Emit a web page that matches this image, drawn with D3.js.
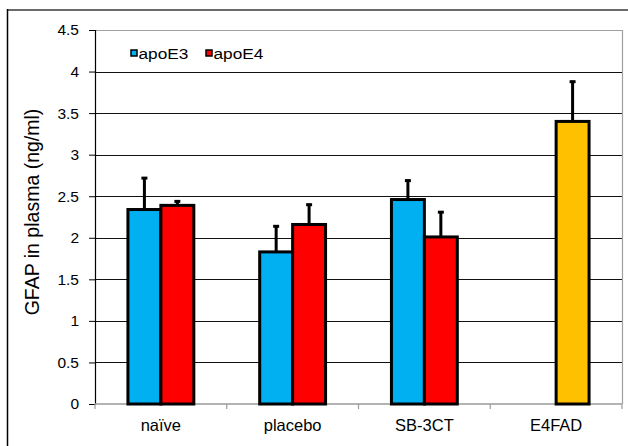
<!DOCTYPE html>
<html>
<head>
<meta charset="utf-8">
<script src="https://cdn.jsdelivr.net/npm/d3@7"></script>
<style>
  body { margin: 0; background: #fff; }
  svg { display: block; font-family: "Liberation Sans", Arial, sans-serif; }
</style>
</head>
<body>
<svg id="chart" width="628" height="446"></svg>
<script>
// data
const categories = ["naïve", "placebo", "SB-3CT", "E4FAD"];
const series = ["apoE3", "apoE4"];
const apoE3 = [2.34, 1.83, 2.46, null];
const apoE4 = [2.39, 2.16, 2.01, 3.40];
const apoE3Err = [0.39, 0.32, 0.24, null];
const apoE4Err = [0.06, 0.25, 0.31, 0.49];
const yTicks = [0, 0.5, 1, 1.5, 2, 2.5, 3, 3.5, 4, 4.5];

const colors = { apoE3: "#00B0F0", apoE4: "#FF0000" };
const e4fadColor = "#FFC000"; // single bar recoloured in the apoE4 series

const svg = d3.select("#chart");
const margin = { left: 95, right: 6, top: 30, bottom: 42 };
const W = +svg.attr("width"), H = +svg.attr("height");

// outer frame (cropped on right/bottom)
svg.append("line").attr("x1", 7).attr("x2", W).attr("y1", 10).attr("y2", 10)
  .attr("stroke", "#6a6a6a").attr("stroke-width", 2);
svg.append("line").attr("x1", 7.5).attr("x2", 7.5).attr("y1", 9).attr("y2", H)
  .attr("stroke", "#000").attr("stroke-width", 1.5);

const x0 = d3.scaleBand().domain(categories)
  .range([margin.left, W - margin.right]).padding(0);
const x1 = d3.scaleBand().domain(series)
  .range([0, x0.bandwidth()]).paddingInner(0).paddingOuter(1);
const y = d3.scaleLinear().domain([0, 4.5]).range([H - margin.bottom, margin.top]);

// gridlines
svg.append("g").selectAll("line").data(yTicks.filter(d => d > 0 && d < 4.5))
  .join("line")
  .attr("x1", margin.left).attr("x2", W - margin.right)
  .attr("y1", d => Math.round(y(d)) + 0.5).attr("y2", d => Math.round(y(d)) + 0.5)
  .attr("stroke", "#111").attr("stroke-width", 1);

// plot area border (top + right)
svg.append("path")
  .attr("d", `M${margin.left},${Math.round(y(4.5)) + 0.5}H${W - margin.right + 0.5}V${y(0)}`)
  .attr("fill", "none").attr("stroke", "#a0a0a0").attr("stroke-width", 1.2);

// y axis
const yAxis = svg.append("g")
  .attr("transform", `translate(${margin.left},0)`)
  .call(d3.axisLeft(y).tickValues(yTicks).tickSize(6).tickPadding(10).tickFormat(d => String(d)));
yAxis.select(".domain").attr("stroke", "#000").attr("stroke-width", 1.2);
yAxis.selectAll(".tick line").attr("stroke", "#000");
yAxis.selectAll(".tick text").attr("font-size", 15.5).attr("fill", "#000")
  .attr("font-family", "'Liberation Sans', Arial, sans-serif");

// x axis (gray line with ticks between groups)
const xAxisY = y(0);
svg.append("line").attr("x1", margin.left).attr("x2", W - margin.right)
  .attr("y1", xAxisY).attr("y2", xAxisY)
  .attr("stroke", "#9a9a9a").attr("stroke-width", 1.5);
const bounds = categories.map(c => x0(c)).concat([x0.range()[1]]);
svg.append("g").selectAll("line").data(bounds).join("line")
  .attr("x1", d => d).attr("x2", d => d)
  .attr("y1", xAxisY).attr("y2", xAxisY + 5)
  .attr("stroke", "#9a9a9a").attr("stroke-width", 1.2);
svg.append("g").selectAll("text").data(categories).join("text")
  .attr("x", d => x0(d) + x0.bandwidth() / 2)
  .attr("y", xAxisY + 27)
  .attr("text-anchor", "middle").attr("font-size", 16.5).attr("fill", "#000")
  .text(d => d);

// bars
const rows = [];
categories.forEach((c, i) => {
  if (apoE3[i] != null) rows.push({ cat: c, s: "apoE3", v: apoE3[i], e: apoE3Err[i] });
  if (apoE4[i] != null) rows.push({ cat: c, s: "apoE4", v: apoE4[i], e: apoE4Err[i] });
});
const fillFor = d => d.cat === "E4FAD" ? e4fadColor : colors[d.s];
const cx = d => x0(d.cat) + x1(d.s) + x1.bandwidth() / 2;

const errG = svg.append("g");
errG.selectAll("line.stem").data(rows).join("line").attr("class", "stem")
  .attr("x1", cx).attr("x2", cx)
  .attr("y1", d => y(d.v)).attr("y2", d => y(d.v + d.e))
  .attr("stroke", "#000").attr("stroke-width", 3);
errG.selectAll("line.cap").data(rows).join("line").attr("class", "cap")
  .attr("x1", d => cx(d) - 3).attr("x2", d => cx(d) + 3)
  .attr("y1", d => y(d.v + d.e) + 1).attr("y2", d => y(d.v + d.e) + 1)
  .attr("stroke", "#000").attr("stroke-width", 3);

svg.append("g").selectAll("rect").data(rows).join("rect")
  .attr("x", d => x0(d.cat) + x1(d.s))
  .attr("y", d => y(d.v))
  .attr("width", x1.bandwidth())
  .attr("height", d => y(0) - y(d.v))
  .attr("fill", fillFor)
  .attr("stroke", "#000").attr("stroke-width", 3);

// y title
svg.append("text")
  .attr("transform", `translate(39,${(y(0) + y(4.5)) / 2 - 5}) rotate(-90)`)
  .attr("text-anchor", "middle").attr("font-size", 19.5).attr("fill", "#000")
  .text("GFAP in plasma (ng/ml)");

// legend
const legend = svg.append("g").selectAll("g").data(series).join("g")
  .attr("transform", (d, i) => `translate(${130 + i * 75},53)`);
legend.append("rect")
  .attr("x", 1).attr("y", -3).attr("width", 6).attr("height", 6)
  .attr("fill", d => colors[d]).attr("stroke", "#000").attr("stroke-width", 1.5);
legend.append("text")
  .attr("transform", "translate(8.5,5.5) scale(1.15,1)")
  .attr("font-size", 15).attr("fill", "#000")
  .text(d => d);
</script>
</body>
</html>
